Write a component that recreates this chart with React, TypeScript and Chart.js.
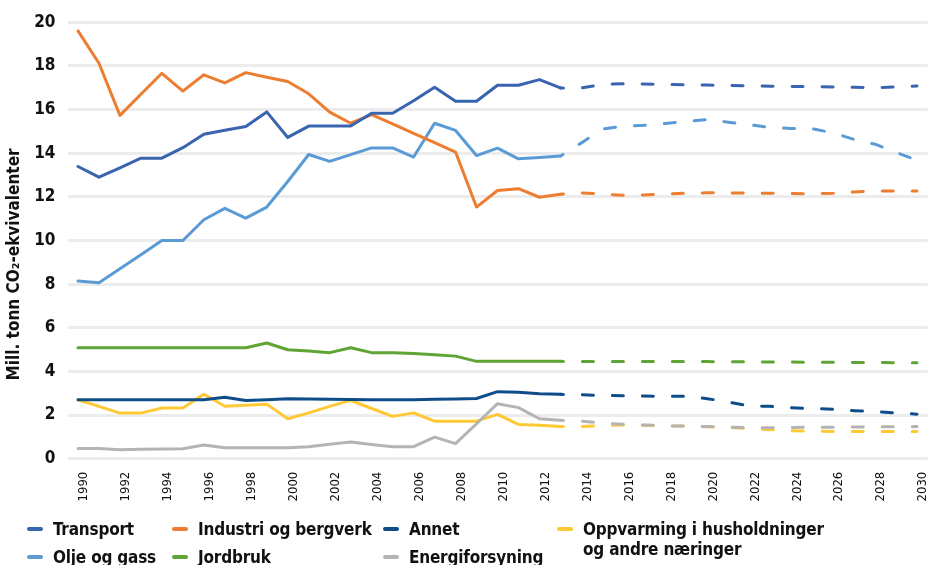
import React, { useEffect, useRef } from "react";
import { Chart, registerables } from "chart.js";

Chart.register(...registerables);

const years = [
  "1990","1991","1992","1993","1994","1995","1996","1997","1998","1999",
  "2000","2001","2002","2003","2004","2005","2006","2007","2008","2009",
  "2010","2011","2012","2013","2014","2015","2016","2017","2018","2019",
  "2020","2021","2022","2023","2024","2025","2026","2027","2028","2029","2030",
];

const transport = [
  13.39, 12.9, 13.33, 13.77, 13.77, 14.25, 14.87, 15.05, 15.22, 15.89,
  14.72, 15.24, 15.24, 15.24, 15.83, 15.83, 16.4, 17.02, 16.38, 16.38,
  17.11, 17.11, 17.37, 16.99, 16.99, 17.15, 17.18, 17.17, 17.15, 17.13,
  17.12, 17.1, 17.08, 17.07, 17.06, 17.05, 17.03, 17.02, 17.0, 17.03, 17.08,
];

const industri = [
  19.6, 18.12, 15.73, 16.7, 17.66, 16.84, 17.59, 17.22, 17.69, 17.48,
  17.28, 16.72, 15.88, 15.37, 15.77, 15.34, 14.91, 14.48, 14.05, 11.53,
  12.29, 12.37, 11.98, 12.12, 12.18, 12.12, 12.07, 12.08, 12.13, 12.17,
  12.18, 12.18, 12.17, 12.16, 12.15, 12.14, 12.16, 12.22, 12.26, 12.27, 12.27,
];

const annet = [
  2.7, 2.7, 2.7, 2.7, 2.7, 2.7, 2.7, 2.82, 2.67, 2.7,
  2.75, 2.73, 2.72, 2.71, 2.7, 2.7, 2.7, 2.72, 2.74, 2.76,
  3.07, 3.04, 2.98, 2.95, 2.93, 2.9, 2.88, 2.87, 2.86, 2.86,
  2.75, 2.6, 2.42, 2.4, 2.33, 2.3, 2.27, 2.2, 2.15, 2.1, 2.04,
];

const oppvarming = [
  2.7, 2.4, 2.09, 2.09, 2.32, 2.32, 2.95, 2.4, 2.45, 2.5,
  1.83, 2.1, 2.4, 2.67, 2.3, 1.94, 2.1, 1.72, 1.72, 1.72,
  2.03, 1.57, 1.53, 1.48, 1.47, 1.52, 1.54, 1.53, 1.51, 1.49,
  1.46, 1.43, 1.38, 1.33, 1.28, 1.26, 1.25, 1.25, 1.25, 1.25, 1.25,
];

const oljeOgGass = [
  8.14, 8.06, 8.7, 9.35, 10.0, 10.0, 10.95, 11.47, 11.02, 11.53,
  12.7, 13.94, 13.62, 13.93, 14.24, 14.24, 13.82, 15.37, 15.04, 13.89,
  14.23, 13.74, 13.8, 13.87, 14.47, 15.1, 15.24, 15.28, 15.36, 15.45,
  15.54, 15.42, 15.3, 15.18, 15.13, 15.12, 14.93, 14.63, 14.41, 14.03, 13.68,
];

const jordbruk = [
  5.08, 5.08, 5.08, 5.08, 5.08, 5.08, 5.08, 5.08, 5.08, 5.3,
  4.99, 4.93, 4.86, 5.08, 4.86, 4.86, 4.82, 4.76, 4.7, 4.46,
  4.46, 4.46, 4.46, 4.46, 4.45, 4.45, 4.45, 4.45, 4.45, 4.45,
  4.45, 4.44, 4.44, 4.43, 4.43, 4.42, 4.42, 4.41, 4.41, 4.4, 4.4,
];

const energiforsyning = [
  0.47, 0.47, 0.41, 0.43, 0.44, 0.46, 0.63, 0.5, 0.5, 0.5,
  0.5, 0.55, 0.66, 0.76, 0.65, 0.55, 0.55, 0.99, 0.69, 1.6,
  2.52, 2.34, 1.83, 1.76, 1.72, 1.63, 1.58, 1.54, 1.51, 1.49,
  1.47, 1.44, 1.42, 1.42, 1.43, 1.44, 1.44, 1.45, 1.46, 1.46, 1.47,
];

const yTicks = [0, 2, 4, 6, 8, 10, 12, 14, 16, 18, 20];
const lastHistoricYear = "2013";
const yTitle = "Mill. tonn CO₂-ekvivalenter";

const seriesNames = [
  "Transport",
  "Industri og bergverk",
  "Annet",
  "Oppvarming i husholdninger og andre næringer",
  "Olje og gass",
  "Jordbruk",
  "Energiforsyning",
];
const seriesColors = ["#3864B0", "#ED7D31", "#0F4C8A", "#FFC935", "#5B9BD5", "#5FA434", "#B4B4B4"];
const seriesData = [transport, industri, annet, oppvarming, oljeOgGass, jordbruk, energiforsyning];
const drawOrder = [1, 2, 3, 5, 4, 6, 4];

const FONT = '"DejaVu Sans Condensed", "DejaVu Sans", sans-serif';

const legendItems = [
  { idx: 0, left: 27, top: 519, lines: ["Transport"] },
  { idx: 1, left: 172, top: 519, lines: ["Industri og bergverk"] },
  { idx: 2, left: 383, top: 519, lines: ["Annet"] },
  { idx: 3, left: 557, top: 519, lines: ["Oppvarming i husholdninger", "og andre næringer"] },
  { idx: 4, left: 27, top: 547, lines: ["Olje og gass"] },
  { idx: 5, left: 172, top: 547, lines: ["Jordbruk"] },
  { idx: 6, left: 383, top: 547, lines: ["Energiforsyning"] },
];

export default function App() {
  const canvasRef = useRef<HTMLCanvasElement | null>(null);

  useEffect(() => {
    const canvas = canvasRef.current;
    if (!canvas) return;
    const splitIndex = years.indexOf(lastHistoricYear);

    const yTitlePlugin = {
      id: "yTitlePlugin",
      afterDraw(chart: any) {
        const { ctx, chartArea } = chart;
        ctx.save();
        ctx.translate(15, (chartArea.top + chartArea.bottom) / 2 + 24);
        ctx.rotate(-Math.PI / 2);
        ctx.font = `bold 17px ${FONT}`;
        ctx.fillStyle = "#111";
        ctx.textAlign = "center";
        ctx.textBaseline = "middle";
        ctx.fillText(yTitle, 0, 0);
        ctx.restore();
      },
    };

    const chart = new Chart(canvas, {
      type: "line",
      data: {
        labels: years,
        datasets: seriesNames.map((name, i) => ({
          label: name,
          data: seriesData[i],
          borderColor: seriesColors[i],
          backgroundColor: seriesColors[i],
          borderWidth: 3,
          pointRadius: 0,
          tension: 0,
          fill: false,
          order: drawOrder[i],
          borderCapStyle: "round" as const,
          borderJoinStyle: "round" as const,
          segment: {
            borderDash: (ctx: any) => (ctx.p0DataIndex >= splitIndex ? [11, 19] : undefined),
            borderDashOffset: (ctx: any) => (ctx.p0DataIndex >= splitIndex ? 8 : 0),
          },
        })),
      },
      options: {
        animation: false,
        responsive: false,
        layout: { padding: { left: 0, right: 3.5, top: 21.7, bottom: 56.3 } },
        plugins: {
          legend: { display: false },
          tooltip: { enabled: false },
          title: { display: false },
        },
        scales: {
          x: {
            type: "category",
            offset: true,
            grid: { display: false, drawTicks: false },
            border: { display: false },
            ticks: {
              autoSkip: false,
              maxRotation: 90,
              minRotation: 90,
              padding: 13,
              labelOffset: 6,
              color: "#111",
              font: { family: FONT, size: 13 },
              callback: (_v: any, i: number) => (i % 2 === 0 ? years[i] : ""),
            },
            afterFit: (s: any) => {
              s.height = 50;
              s.paddingLeft = 0;
              s.paddingRight = 0;
            },
          },
          y: {
            min: yTicks[0],
            max: yTicks[yTicks.length - 1],
            afterBuildTicks: (s: any) => {
              s.ticks = yTicks.map((v) => ({ value: v }));
            },
            grid: { color: "#ececec", lineWidth: 3, drawTicks: false },
            border: { display: false },
            ticks: {
              padding: 12,
              color: "#111",
              font: { family: FONT, size: 17, weight: "bold" },
            },
            afterFit: (s: any) => {
              s.width = 67.5;
            },
          },
        },
      },
      plugins: [yTitlePlugin],
    });
    return () => chart.destroy();
  }, []);

  return (
    <div
      style={{
        position: "fixed",
        left: 0,
        top: 0,
        width: 931,
        height: 565,
        background: "#fff",
        overflow: "hidden",
      }}
    >
      <canvas ref={canvasRef} width={931} height={565} style={{ position: "absolute", left: 0, top: 0 }} />
      {legendItems.map((item) => (
        <div
          key={item.idx}
          style={{
            position: "absolute",
            left: item.left,
            top: item.top,
            display: "flex",
            alignItems: "flex-start",
            fontFamily: FONT,
            fontWeight: "bold",
            fontSize: 17,
            lineHeight: "20px",
            letterSpacing: "-0.2px",
            color: "#111",
            whiteSpace: "nowrap",
          }}
        >
          <span
            style={{
              display: "inline-block",
              width: 16,
              height: 4,
              borderRadius: 2,
              background: seriesColors[item.idx],
              marginTop: 8,
              marginRight: 10,
            }}
          />
          <span>
            {item.lines.map((l, k) => (
              <div key={k}>{l}</div>
            ))}
          </span>
        </div>
      ))}
    </div>
  );
}
